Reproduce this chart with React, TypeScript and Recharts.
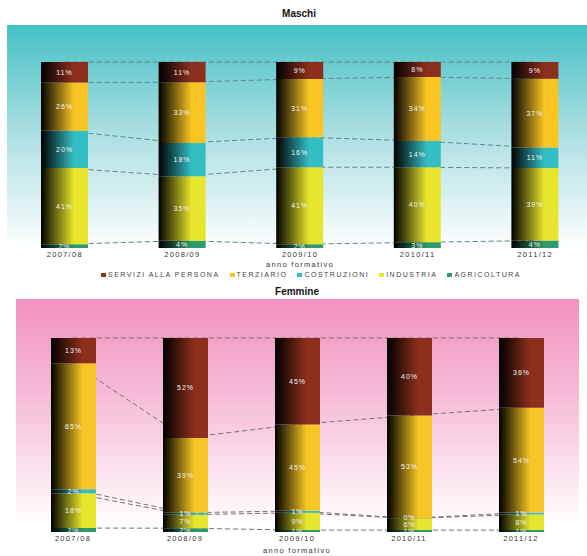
import React from 'react';
import { ComposedChart, Bar, Line, XAxis, YAxis, Legend, LabelList } from 'recharts';

const years = ['2007/08', '2008/09', '2009/10', '2010/11', '2011/12'];

// Maschi (percentuali per settore)
const maschiAgricoltura = [2, 4, 2, 3, 4];
const maschiIndustria = [41, 35, 41, 40, 39];
const maschiCostruzioni = [20, 18, 16, 14, 11];
const maschiTerziario = [26, 33, 31, 34, 37];
const maschiServizi = [11, 11, 9, 8, 9];

// Femmine
const femmineAgricoltura = [2, 2, 1, 1, 1];
const femmineIndustria = [18, 7, 9, 6, 8];
const femmineCostruzioni = [2, 1, 1, 0, 1];
const femmineTerziario = [65, 39, 45, 53, 54];
const femmineServizi = [13, 52, 45, 40, 36];

// stacking order bottom -> top
const sectors = [
  { key: 'agr', name: 'AGRICOLTURA', color: '#2f9a6c' },
  { key: 'ind', name: 'INDUSTRIA', color: '#e8e62c' },
  { key: 'cos', name: 'COSTRUZIONI', color: '#33bec4' },
  { key: 'ter', name: 'TERZIARIO', color: '#f8c524' },
  { key: 'ser', name: 'SERVIZI ALLA PERSONA', color: '#8c301d' },
];

const FONT = '"Liberation Sans", Arial, sans-serif';

function buildRows(agr: number[], ind: number[], cos: number[], ter: number[], ser: number[]) {
  return years.map((year, i) => {
    const t = agr[i] + ind[i] + cos[i] + ter[i] + ser[i];
    return {
      year,
      agr: agr[i],
      ind: ind[i],
      cos: cos[i],
      ter: ter[i],
      ser: ser[i],
      // boundaries between segments, used for the dashed connectors
      c1: agr[i] / t,
      c2: (agr[i] + ind[i]) / t,
      c3: (agr[i] + ind[i] + cos[i]) / t,
      c4: (agr[i] + ind[i] + cos[i] + ter[i]) / t,
      c5: 1,
    };
  });
}

const maschiRows = buildRows(maschiAgricoltura, maschiIndustria, maschiCostruzioni, maschiTerziario, maschiServizi);
const femmineRows = buildRows(femmineAgricoltura, femmineIndustria, femmineCostruzioni, femmineTerziario, femmineServizi);

function SectorLegend() {
  const items = [...sectors].reverse();
  return (
    <div style={{ whiteSpace: 'nowrap', fontFamily: FONT, fontSize: 7, letterSpacing: 1.5, color: '#444', lineHeight: '10px' }}>
      {items.map((s) => (
        <span key={s.key} style={{ marginRight: 10 }}>
          <span style={{ display: 'inline-block', width: 5, height: 4, background: s.color, marginRight: 2, verticalAlign: 'middle' }} />
          {s.name}
        </span>
      ))}
    </div>
  );
}

interface StackChartProps {
  rows: any[];
  id: string;
  width: number;
  height: number;
  margin: { top: number; right: number; left: number; bottom: number };
  barSize: number;
  lineColor: string;
  axisHeight: number;
  labelOffset: number;
  showLegend?: boolean;
}

function StackChart({ rows, id, width, height, margin, barSize, lineColor, axisHeight, labelOffset, showLegend }: StackChartProps) {
  const textStyle = { fill: '#333', fontSize: 7.5, letterSpacing: 1.3, fontFamily: FONT };
  return (
    <ComposedChart width={width} height={height} data={rows} margin={margin} stackOffset="expand">
      <defs>
        {sectors.map((s) => (
          <linearGradient key={s.key} id={`${id}-${s.key}`} x1="0" y1="0" x2="1" y2="0">
            <stop offset="0" stopColor="#000" />
            <stop offset="0.7" stopColor={s.color} />
            <stop offset="1" stopColor={s.color} />
          </linearGradient>
        ))}
      </defs>
      <XAxis
        dataKey="year"
        axisLine={false}
        tickLine={false}
        tickSize={0}
        tickMargin={4}
        height={axisHeight}
        tick={textStyle}
        label={{ value: 'anno formativo', position: 'insideBottom', offset: labelOffset, ...textStyle }}
      />
      <YAxis hide domain={[0, 1]} />
      {['c1', 'c2', 'c3', 'c4', 'c5'].map((k) => (
        <Line
          key={k}
          dataKey={k}
          stroke={lineColor}
          strokeWidth={1}
          strokeDasharray="5 3"
          dot={false}
          activeDot={false}
          legendType="none"
          isAnimationActive={false}
          zIndex={100}
        />
      ))}
      {sectors.map((s) => (
        <Bar
          key={s.key}
          dataKey={s.key}
          name={s.name}
          stackId="a"
          barSize={barSize}
          minPointSize={s.key === 'cos' ? 1 : 0}
          fill={`url(#${id}-${s.key})`}
          isAnimationActive={false}
        >
          <LabelList
            dataKey={s.key}
            position="center"
            formatter={(v: any) => `${v}%`}
            fill="#f2f2f2"
            fontSize={7}
            letterSpacing={1}
            fontFamily={FONT}
          />
        </Bar>
      ))}
      {showLegend && (
        <Legend
          verticalAlign="middle"
          layout="horizontal"
          wrapperStyle={{ top: 270, left: 101, width: 480 }}
          content={() => <SectorLegend />}
        />
      )}
    </ComposedChart>
  );
}

export default function App() {
  return (
    <div style={{ position: 'absolute', left: 0, top: 0, width: 587, height: 556, overflow: 'hidden', background: '#fff', fontFamily: FONT }}>
      <div style={{ position: 'absolute', left: 7, top: 25, width: 580, height: 225, background: 'linear-gradient(#44c1c5 0%, #a6dde0 45%, #ffffff 100%)' }} />
      <div style={{ position: 'absolute', left: 16, top: 299, width: 563, height: 228, background: 'linear-gradient(#f191be 0%, #f5b9d5 40%, #ffffff 100%)' }} />
      <div style={{ position: 'absolute', left: 0, top: 8, width: 598, textAlign: 'center', fontSize: 10, fontWeight: 'bold', color: '#111' }}>Maschi</div>
      <div style={{ position: 'absolute', left: 0, top: 286, width: 594, textAlign: 'center', fontSize: 10, fontWeight: 'bold', color: '#111' }}>Femmine</div>
      <div style={{ position: 'absolute', left: 0, top: 0 }}>
        <StackChart
          rows={maschiRows}
          id="m"
          width={594}
          height={285}
          margin={{ top: 62, right: 0, left: 6, bottom: 17 }}
          barSize={47}
          lineColor="#62868c"
          axisHeight={20}
          labelOffset={1.5}
          showLegend
        />
      </div>
      <div style={{ position: 'absolute', left: 0, top: 285 }}>
        <StackChart
          rows={femmineRows}
          id="f"
          width={587}
          height={271}
          margin={{ top: 53, right: 10, left: 17, bottom: 2 }}
          barSize={45}
          lineColor="#7a7078"
          axisHeight={22}
          labelOffset={1.5}
        />
      </div>
    </div>
  );
}
